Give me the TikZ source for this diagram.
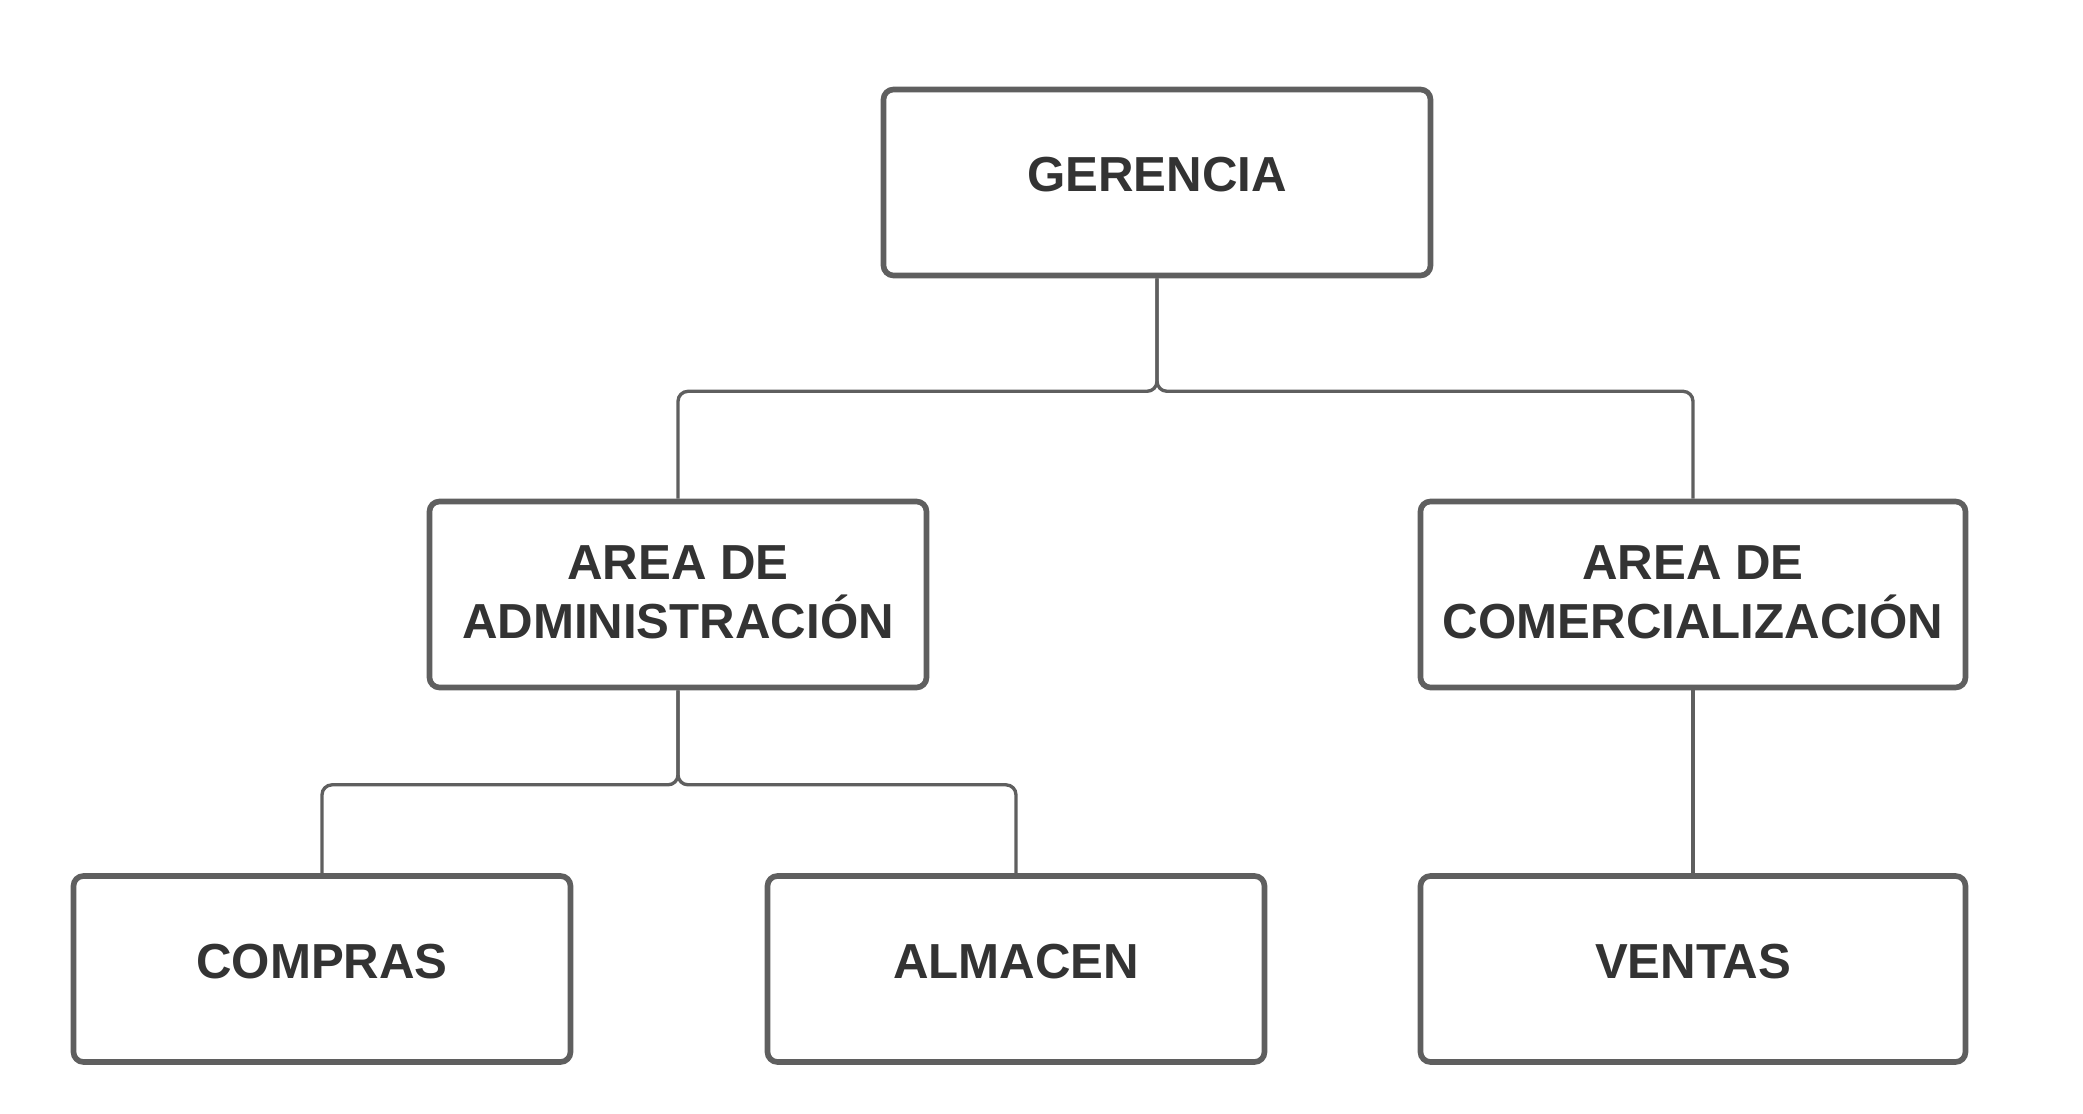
\documentclass[tikz,border=0pt]{standalone}
\usepackage{fontspec}
\setmainfont{Liberation Sans}
\definecolor{boxgray}{HTML}{5F5F5F}
\definecolor{textgray}{HTML}{333333}

\begin{document}
\begin{tikzpicture}[
	box/.style={draw=boxgray, line width=1.6pt, rounded corners=0.1cm, fill=white,
		text=textgray, font=\fontsize{14}{17}\selectfont\bfseries, align=center,
		minimum height=1.86cm, text depth=0.16cm},
	conn/.style={draw=boxgray, line width=0.95pt, rounded corners=0.1cm}]
	\useasboundingbox (0,0) rectangle (20.83,11.14);
	% Boxes
	\node[box, minimum width=5.47cm] (ger) at (11.57,9.315) {GERENCIA};
	\node[box, minimum width=4.97cm, text depth=0.05cm] (adm) at (6.78,5.195) {AREA DE\\ADMINISTRACIÓN};
	\node[box, minimum width=5.45cm, text depth=0.05cm] (com) at (16.93,5.195) {AREA DE\\COMERCIALIZACIÓN};
	\node[box, minimum width=4.97cm] (cmp) at (3.22,1.45) {COMPRAS};
	\node[box, minimum width=4.97cm] (alm) at (10.16,1.45) {ALMACEN};
	\node[box, minimum width=5.45cm] (ven) at (16.93,1.45) {VENTAS};
	% Lines
	\draw[conn] (ger.south) -- ++(0,-1.13) -| (adm.north);
	\draw[conn] (ger.south) -- ++(0,-1.13) -| (com.north);
	\draw[conn] (adm.south) -- ++(0,-0.945) -| (cmp.north);
	\draw[conn] (adm.south) -- ++(0,-0.945) -| (alm.north);
	\draw[conn] (com.south) -- (ven.north);
\end{tikzpicture}
\end{document}
